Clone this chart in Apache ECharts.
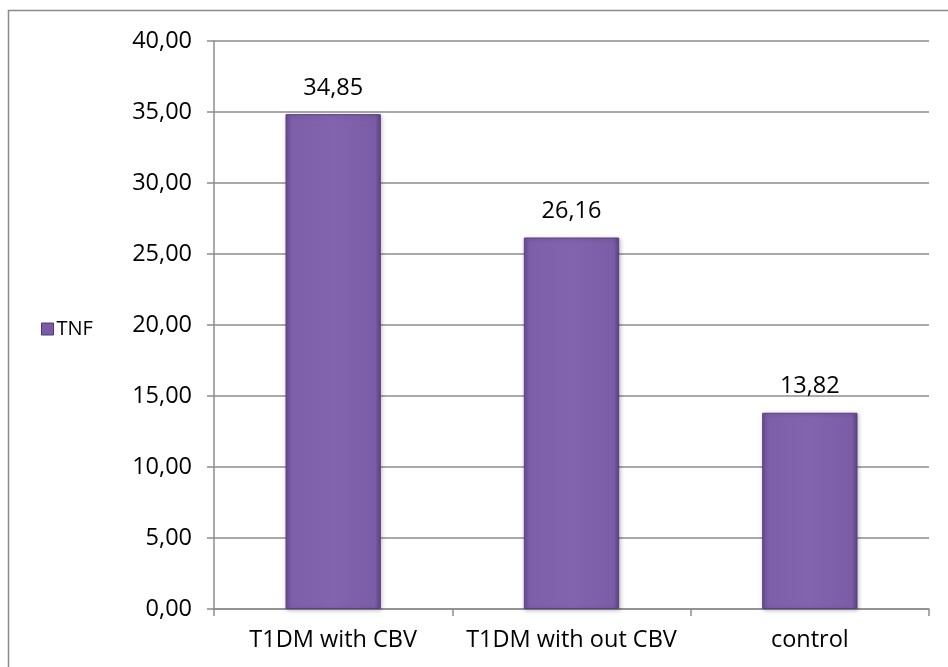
<!DOCTYPE html>
<html><head><meta charset="utf-8">
<script src="https://cdn.jsdelivr.net/npm/echarts@6/dist/echarts.min.js"></script>
<style>html,body{margin:0;padding:0;background:#fff}#c{width:948px;height:667px}</style>
</head><body><div id="c"></div>
<script>
const categories = ['T1DM with CBV', 'T1DM with out CBV', 'control'];
const tnfValues = [34.85, 26.16, 13.82];
const seriesName = 'TNF';
const yTicks = {min: 0, max: 40, interval: 5};

const fmt = v => v.toFixed(2).replace('.', ',');
const FONT = 'Open Sans';
const FS = 23.5;
const chart = echarts.init(document.getElementById('c'), null, {renderer: 'canvas'});
const barColor = {
  type: 'linear', x: 0, y: 0, x2: 1, y2: 0,
  colorStops: [
    {offset: 0, color: '#6a4d93'},
    {offset: 0.06, color: '#7d5ea9'},
    {offset: 0.5, color: '#8264ae'},
    {offset: 0.94, color: '#7b5ca6'},
    {offset: 1, color: '#5e4384'}
  ]
};
chart.setOption({
  animation: false,
  backgroundColor: '#fff',
  graphic: [{
    type: 'rect', silent: true,
    shape: {x: 8.5, y: 10.5, width: 945, height: 700},
    style: {fill: 'none', stroke: '#8a8a8a', lineWidth: 1.5}
  }],
  legend: {
    left: 36, top: 314, orient: 'vertical',
    itemWidth: 12, itemHeight: 12, itemGap: 4,
    textStyle: {fontFamily: FONT, fontSize: 20, color: '#000', padding: [0, 0, 0, -2]},
    data: [{name: seriesName, icon: 'rect', itemStyle: {color: '#7a5ba6', borderColor: '#4f3872', borderWidth: 1}}]
  },
  grid: {left: 214, right: 19, top: 41, bottom: 58},
  xAxis: {
    type: 'category', data: categories,
    axisLine: {lineStyle: {color: '#8c8c8c', width: 1.5}},
    axisTick: {show: true, length: 7, lineStyle: {color: '#8c8c8c', width: 1.5}},
    axisLabel: {interval: 0, hideOverlap: false, margin: 19, fontFamily: FONT, fontSize: FS, color: '#000'}
  },
  yAxis: {
    type: 'value', min: yTicks.min, max: yTicks.max, interval: yTicks.interval,
    axisLine: {show: true, lineStyle: {color: '#8c8c8c', width: 1.5}},
    axisTick: {show: true, length: 7, lineStyle: {color: '#8c8c8c', width: 1.5}},
    splitLine: {lineStyle: {color: '#8c8c8c', width: 1.5}},
    axisLabel: {margin: 22, fontFamily: FONT, fontSize: FS, color: '#000', formatter: fmt}
  },
  series: [{
    name: seriesName, type: 'bar', data: tnfValues, barWidth: '40%',
    itemStyle: {color: barColor, borderColor: '#5a4080', borderWidth: 1,
      shadowColor: 'rgba(0,0,0,0.25)', shadowBlur: 4, shadowOffsetX: 1, shadowOffsetY: 1},
    label: {show: true, position: 'top', distance: 14, fontFamily: FONT, fontSize: FS, color: '#000', formatter: p => fmt(p.value)}
  }]
});
</script></body></html>
